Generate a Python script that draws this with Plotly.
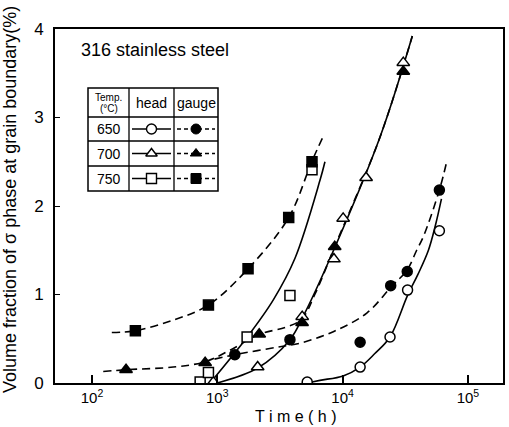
import plotly.graph_objects as go

# ---------------- data ----------------
# measured points: time (h), volume fraction (%)
head_650_t = [5220, 13800, 23900, 33000, 59200]
head_650_v = [0.01, 0.18, 0.52, 1.05, 1.72]
gauge_650_t = [1380, 3800, 13800, 24200, 32800, 59200]
gauge_650_v = [0.32, 0.49, 0.46, 1.10, 1.26, 2.18]

head_700_t = [930, 2100, 4760, 8530, 10100, 15400, 30500]
head_700_v = [0.01, 0.18, 0.75, 1.40, 1.86, 2.32, 3.62]
gauge_700_t = [187, 800, 2160, 4750, 8650, 30500]
gauge_700_v = [0.15, 0.23, 0.55, 0.68, 1.54, 3.52]

head_750_t = [730, 850, 1730, 3800, 5700]
head_750_v = [0.01, 0.12, 0.52, 0.99, 2.41]
gauge_750_t = [222, 850, 1760, 3715, 5700]
gauge_750_v = [0.59, 0.88, 1.29, 1.87, 2.50]

# fitted curves drawn through the data
fit_650_head_t = [5220, 6600, 10100, 13800, 18000, 23900, 33000, 40000, 48400, 55000, 61500]
fit_650_head_v = [0.00, 0.03, 0.08, 0.18, 0.33, 0.52, 0.99, 1.23, 1.50, 1.78, 2.08]
fit_650_gauge_t = [950, 1383, 3170, 4570, 8430, 15600, 24200, 32800, 39000, 44000, 59200, 67700]
fit_650_gauge_v = [0.27, 0.32, 0.41, 0.45, 0.58, 0.79, 1.08, 1.28, 1.50, 1.65, 2.18, 2.50]

fit_700_head_t = [1000, 2100, 3800, 4830, 7950, 19900, 36000]
fit_700_head_v = [0.00, 0.17, 0.49, 0.75, 1.41, 2.78, 3.92]
fit_700_gauge_t = [123, 187, 445, 800, 1262, 2163, 3500, 4710, 6000, 8650, 19900, 36000]
fit_700_gauge_v = [0.13, 0.15, 0.18, 0.24, 0.37, 0.55, 0.63, 0.72, 1.00, 1.54, 2.78, 3.92]

fit_750_head_t = [900, 1734, 2800, 4170, 6600, 7230]
fit_750_head_v = [0.02, 0.52, 0.94, 1.41, 2.29, 2.50]
fit_750_gauge_t = [144, 220, 445, 846, 1758, 3715, 5670, 7020]
fit_750_gauge_v = [0.57, 0.59, 0.71, 0.88, 1.29, 1.87, 2.50, 2.79]

x_tickvals = [100, 1000, 10000, 100000]
x_ticktext = ["10<sup>2</sup>", "10<sup>3</sup>", "10<sup>4</sup>", "10<sup>5</sup>"]
y_tickvals = [0, 1, 2, 3, 4]

temps = ["650", "700", "750"]
symbols_head = ["circle", "triangle-up", "square"]   # drawn white-filled
symbols_gauge = ["circle", "triangle-up", "square"]  # drawn black-filled

# ---------------- figure ----------------
FONT = "Liberation Sans, Arial, sans-serif"
BLACK = "black"
DASH = "8px,5px"
LW = 1.6

fig = go.Figure()

fits = [
    (fit_650_head_t, fit_650_head_v, "solid"),
    (fit_650_gauge_t, fit_650_gauge_v, DASH),
    (fit_700_head_t, fit_700_head_v, "solid"),
    (fit_700_gauge_t, fit_700_gauge_v, DASH),
    (fit_750_head_t, fit_750_head_v, "solid"),
    (fit_750_gauge_t, fit_750_gauge_v, DASH),
]
for t, v, d in fits:
    fig.add_trace(go.Scatter(x=t, y=v, mode="lines",
                             line=dict(color=BLACK, width=LW, dash=d, shape="spline", smoothing=1.0),
                             showlegend=False, hoverinfo="skip"))

pts = [
    (head_650_t, head_650_v, "circle", 10, "white"),
    (gauge_650_t, gauge_650_v, "circle", 10, BLACK),
    (head_700_t, head_700_v, "triangle-up", 11, "white"),
    (gauge_700_t, gauge_700_v, "triangle-up", 11, BLACK),
    (head_750_t, head_750_v, "square", 10, "white"),
    (gauge_750_t, gauge_750_v, "square", 10, BLACK),
]
for t, v, s, sz, fc in pts:
    fig.add_trace(go.Scatter(x=t, y=v, mode="markers",
                             marker=dict(symbol=s, size=sz, color=fc, line=dict(color=BLACK, width=1.5)),
                             showlegend=False))

# ---------------- legend table (pixel-space overlay axis) ----------------
L, R, T, B = 55, 503, 29, 383  # plot area in pixels
tx = [88, 129, 174, 218]          # column borders
ty = [88, 117, 141, 166, 191]     # row borders
shapes = []
shapes.append(dict(type="rect", xref="x2", yref="y2", x0=tx[0], x1=tx[3], y0=ty[0], y1=ty[4],
                   line=dict(color=BLACK, width=1.5)))
for cx in tx[1:3]:
    shapes.append(dict(type="line", xref="x2", yref="y2", x0=cx, x1=cx, y0=ty[0], y1=ty[4],
                       line=dict(color=BLACK, width=1.3)))
for ry in ty[1:4]:
    shapes.append(dict(type="line", xref="x2", yref="y2", x0=tx[0], x1=tx[3], y0=ry, y1=ry,
                       line=dict(color=BLACK, width=1.3)))

annotations = []
for i, tp in enumerate(temps):
    cy = (ty[i + 1] + ty[i + 2]) / 2
    annotations.append(dict(xref="x2", yref="y2", x=(tx[0] + tx[1]) / 2, y=cy, text=tp, showarrow=False,
                            font=dict(family=FONT, size=14, color=BLACK)))
    hx = (tx[1] + tx[2]) / 2
    gx = (tx[2] + tx[3]) / 2
    fig.add_trace(go.Scatter(x=[tx[1] + 3, tx[2] - 3], y=[cy, cy], xaxis="x2", yaxis="y2", mode="lines",
                             line=dict(color=BLACK, width=1.4), showlegend=False, hoverinfo="skip"))
    fig.add_trace(go.Scatter(x=[tx[2] + 3, tx[3] - 3], y=[cy, cy], xaxis="x2", yaxis="y2", mode="lines",
                             line=dict(color=BLACK, width=1.4, dash="4px,3px"), showlegend=False, hoverinfo="skip"))
    fig.add_trace(go.Scatter(x=[hx], y=[cy], xaxis="x2", yaxis="y2", mode="markers",
                             marker=dict(symbol=symbols_head[i], size=10, color="white",
                                         line=dict(color=BLACK, width=1.4)), showlegend=False))
    fig.add_trace(go.Scatter(x=[gx], y=[cy], xaxis="x2", yaxis="y2", mode="markers",
                             marker=dict(symbol=symbols_gauge[i], size=10, color=BLACK,
                                         line=dict(color=BLACK, width=1)), showlegend=False))

annotations += [
    dict(xref="x2", yref="y2", x=(tx[0] + tx[1]) / 2, y=97, text="Temp.", showarrow=False,
         font=dict(family=FONT, size=10, color=BLACK)),
    dict(xref="x2", yref="y2", x=(tx[0] + tx[1]) / 2, y=108, text="(°C)", showarrow=False,
         font=dict(family=FONT, size=10, color=BLACK)),
    dict(xref="x2", yref="y2", x=(tx[1] + tx[2]) / 2, y=103, text="head", showarrow=False,
         font=dict(family=FONT, size=14, color=BLACK)),
    dict(xref="x2", yref="y2", x=(tx[2] + tx[3]) / 2, y=103, text="gauge", showarrow=False,
         font=dict(family=FONT, size=14, color=BLACK)),
    dict(xref="x2", yref="y2", x=79, y=50, xanchor="left", yanchor="middle", text="316 stainless steel",
         showarrow=False, font=dict(family=FONT, size=18, color=BLACK)),
    dict(xref="paper", yref="paper", x=(10 - L) / (R - L), y=(B - 200) / (B - T), textangle=-90,
         xanchor="center", yanchor="middle",
         text="Volume fraction of σ phase at grain boundary(%)", showarrow=False,
         font=dict(family=FONT, size=18, color=BLACK)),
    dict(xref="paper", yref="paper", x=(296 - L) / (R - L), y=(B - 417) / (B - T),
         xanchor="center", yanchor="middle",
         text="T i m e ( h )", showarrow=False,
         font=dict(family=FONT, size=16, color=BLACK)),
]

fig.update_layout(
    width=509, height=427,
    margin=dict(l=L, r=509 - R, t=T, b=427 - B, autoexpand=False),
    paper_bgcolor="white", plot_bgcolor="white",
    font=dict(family=FONT, color=BLACK),
    showlegend=False,
    shapes=shapes,
    annotations=annotations,
    xaxis=dict(type="log", range=[1.705, 5.28], tickmode="array", tickvals=x_tickvals, ticktext=x_ticktext,
               ticks="inside", ticklen=8, tickwidth=1.5, tickcolor=BLACK,
               showline=True, linecolor=BLACK, linewidth=1.6, mirror=True, showgrid=False, zeroline=False,
               tickfont=dict(family=FONT, size=15, color=BLACK)),
    yaxis=dict(range=[0, 4], tickmode="array", tickvals=y_tickvals,
               ticks="inside", ticklen=5, tickwidth=1.3, tickcolor=BLACK,
               showline=True, linecolor=BLACK, linewidth=1.6, mirror=True, showgrid=False, zeroline=False,
               tickfont=dict(family=FONT, size=17, color=BLACK), ticklabelstandoff=6),
    xaxis2=dict(overlaying="x", range=[L, R], visible=False, showgrid=False, zeroline=False),
    yaxis2=dict(overlaying="y", range=[B, T], visible=False, showgrid=False, zeroline=False, anchor="x2"),
)
fig.update_traces(cliponaxis=False, selector=dict(xaxis="x2"))

fig.write_html("out.html", config={"displayModeBar": False},
               post_script="document.body.style.margin='0';document.body.style.overflow='hidden';")
